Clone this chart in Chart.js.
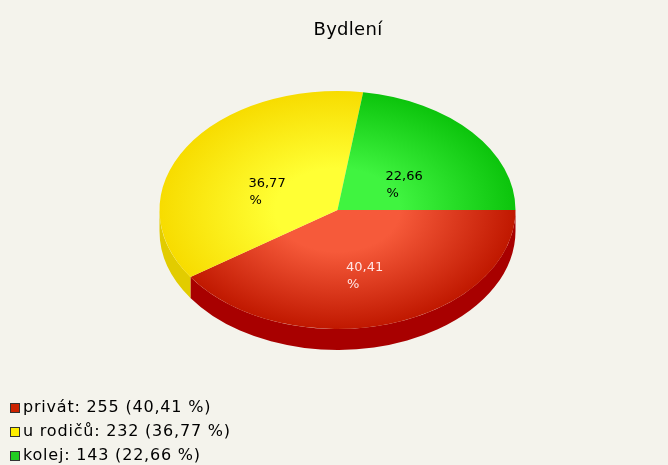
<!DOCTYPE html>
<html>
<head>
<meta charset="utf-8">
<script src="https://cdn.jsdelivr.net/npm/chart.js@4"></script>
<style>
  html, body { margin: 0; padding: 0; background: #f4f3ec; }
</style>
</head>
<body>
<canvas id="myChart" width="668" height="465"></canvas>
<script>
const chartTitle = "Bydlení";
const categories = ["privát", "u rodičů", "kolej"];
const counts = [255, 232, 143];
const percents = ["40,41", "36,77", "22,66"];

// look of the 3d pie
const topLight = ["#f65a3a", "#ffff34", "#40f440"];
const topDark = ["#c01800", "#f7dc00", "#0cc40c"];
const sideColors = ["#a80000", "#e2cc00", "#088e08"];
const legendColors = ["#cc2200", "#ffee00", "#22cc22"];
const labelColors = ["#ffe6e6", "#000000", "#000000"];
const RX = 178;
const RY = 119;
const DEPTH = 21;
const FONT = "'DejaVu Sans', sans-serif";

function sliceFill(c) {
  const chart = c.chart;
  const a = chart.chartArea;
  const i = c.dataIndex;
  if (!a) return topDark[i];
  const cx = (a.left + a.right) / 2;
  const cy = (a.top + a.bottom) / 2;
  const g = chart.ctx.createRadialGradient(cx, cy, 0, cx, cy, RX);
  g.addColorStop(0, topLight[i]);
  g.addColorStop(0.35, topLight[i]);
  g.addColorStop(1, topDark[i]);
  return g;
}

const background = {
  id: "background",
  beforeDraw: (chart) => {
    const { ctx } = chart;
    ctx.save();
    ctx.fillStyle = "#f4f3ec";
    ctx.fillRect(0, 0, chart.width, chart.height);
    ctx.restore();
  },
};

const pie3d = {
  id: "pie3d",
  beforeDatasetsDraw: (chart) => {
    const { ctx } = chart;
    const arcs = chart.getDatasetMeta(0).data;
    const cx = arcs[0].x;
    const cy = arcs[0].y;
    // side wall, only the front half shows
    ctx.save();
    arcs.forEach((arc, i) => {
      const a0 = Math.max(arc.startAngle, 0);
      const a1 = Math.min(arc.endAngle, Math.PI);
      if (a1 <= a0) return;
      ctx.beginPath();
      ctx.ellipse(cx, cy, RX, RY, 0, a0, a1);
      ctx.ellipse(cx, cy + DEPTH, RX, RY, 0, a1, a0, true);
      ctx.closePath();
      ctx.fillStyle = sideColors[i];
      ctx.fill();
    });
    ctx.restore();
    // squash the top face
    ctx.save();
    ctx.translate(cx, cy);
    ctx.scale(1, RY / arcs[0].outerRadius);
    ctx.translate(-cx, -cy);
  },
  afterDatasetsDraw: (chart) => {
    const { ctx } = chart;
    ctx.restore();
    const arcs = chart.getDatasetMeta(0).data;
    const cx = arcs[0].x;
    const cy = arcs[0].y;
    ctx.save();
    ctx.font = "13px " + FONT;
    ctx.textAlign = "left";
    ctx.textBaseline = "middle";
    arcs.forEach((arc, i) => {
      const mid = (arc.startAngle + arc.endAngle) / 2;
      const bx = cx + 0.48 * RX * Math.cos(mid) + 2;
      const by = cy + 0.48 * RY * Math.sin(mid) + 12;
      const w = ctx.measureText(percents[i]).width;
      ctx.fillStyle = labelColors[i];
      ctx.fillText(percents[i], bx - w / 2, by - 8.5);
      ctx.fillText("%", bx - w / 2 + 1, by + 8.5);
    });
    ctx.restore();
  },
  afterDraw: (chart) => {
    const { ctx } = chart;
    ctx.save();
    ctx.fillStyle = "#000";
    ctx.textBaseline = "middle";
    ctx.textAlign = "center";
    ctx.font = "18px " + FONT;
    ctx.letterSpacing = "0.3px";
    ctx.fillText(chartTitle, 348, 30);

    ctx.textAlign = "left";
    ctx.font = "16px " + FONT;
    ctx.letterSpacing = "0.8px";
    categories.forEach((name, i) => {
      const y = 408 + i * 24;
      ctx.fillStyle = legendColors[i];
      ctx.fillRect(10, y - 5, 10, 10);
      ctx.strokeStyle = "#333";
      ctx.lineWidth = 1;
      ctx.strokeRect(10.5, y - 4.5, 9, 9);
      ctx.fillStyle = "#000";
      ctx.fillText(`${name}: ${counts[i]} (${percents[i]} %)`, 23, y);
    });
    ctx.restore();
  },
};

const ctx = document.getElementById("myChart");
new Chart(ctx, {
  type: "pie",
  data: {
    labels: categories,
    datasets: [
      {
        data: counts,
        backgroundColor: sliceFill,
        borderWidth: 0,
        radius: RX,
        clip: false,
      },
    ],
  },
  options: {
    responsive: false,
    animation: false,
    events: [],
    rotation: 90,
    layout: { padding: { top: 20, bottom: 65, left: 40, right: 33 } },
    plugins: {
      legend: { display: false },
      title: { display: false },
      tooltip: { enabled: false },
    },
  },
  plugins: [background, pie3d],
});
</script>
</body>
</html>
